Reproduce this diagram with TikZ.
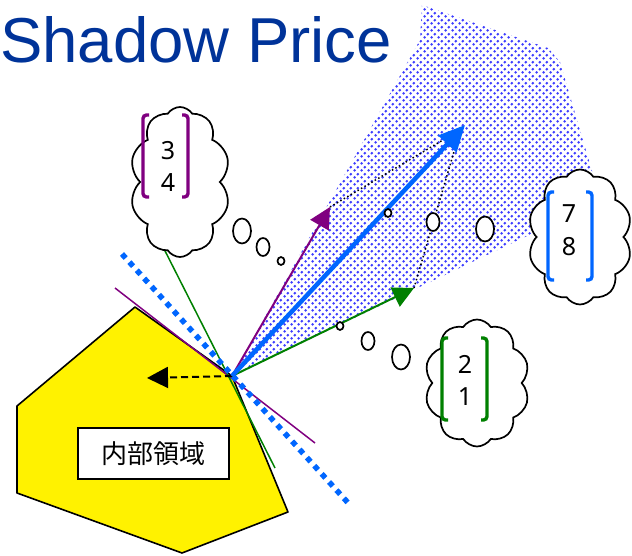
\documentclass[tikz,border=0pt]{standalone}
\usepackage{fontspec}
\setmainfont{Noto Sans}
\newfontfamily\titlefont{Liberation Sans}
\newfontfamily\cjkfont{Noto Sans CJK JP}
\usetikzlibrary{shapes.symbols,shapes.geometric,arrows.meta,patterns}

\definecolor{titleblue}{RGB}{0,51,153}
\definecolor{vecblue}{RGB}{0,102,255}
\definecolor{vecpurple}{RGB}{128,0,128}
\definecolor{vecgreen}{RGB}{0,128,0}
\definecolor{dotblue}{RGB}{60,60,255}

% staggered dot fill for the cone of feasible directions
\pgfdeclarepatternformonly{bluedots}{\pgfpointorigin}{\pgfpoint{6.7pt}{6.7pt}}{\pgfpoint{6.7pt}{6.7pt}}{%
  \pgfpathcircle{\pgfpoint{1.675pt}{1.675pt}}{1.5pt}%
  \pgfpathcircle{\pgfpoint{5.025pt}{5.025pt}}{1.5pt}%
  \pgfusepath{fill}}

\begin{document}
\begin{tikzpicture}[x=1pt,y=-1pt,
  cloudbox/.style={cloud, cloud puffs=10, cloud puff arc=115, cloud ignores aspect,
    draw=black, line width=1.7pt, fill=white, inner sep=0pt},
  bubble/.style={ellipse, draw=black, line width=1.7pt, fill=white, inner sep=0pt},
  vecarrow/.style={line width=2pt, -{Triangle[length=21pt,width=21pt]}},
  bracketline/.style={line width=3.4pt, rounded corners=3.5pt},
  digits/.style={font=\fontsize{25}{25}\selectfont, inner sep=0pt, anchor=base},
]
\useasboundingbox (0,0) rectangle (632,556);

% title
\node[text=titleblue, font=\titlefont\fontsize{63.5}{63.5}\selectfont,
  inner sep=0pt, anchor=base west] (title) at (0,63) {Shadow Price};

% key points
\coordinate (P) at (232,376);
\coordinate (ptip) at (330,207);
\coordinate (gtip) at (414,288);
\coordinate (btip) at (465,125);
\coordinate (pjoin) at (443,140);
\coordinate (gjoin) at (458,138);

% dotted cone
\fill[pattern=bluedots, pattern color=dotblue]
  (P) -- (420,40) -- (422,5) -- (548,48) -- (560,62) -- (602,205) -- (565,218) -- cycle;

% interior region
\draw[fill=yellow, line width=1.6pt, line join=round]
  (P) -- (135,307) -- (17,406) -- (17,493) -- (182,553) -- (288,512) -- cycle;
\node[draw=black, fill=white, line width=1.4pt, minimum width=151pt, minimum height=51pt,
  inner sep=0pt, font=\cjkfont\fontsize{26}{26}\selectfont] (inner) at (153.5,453.5) {内部領域};

% supporting lines through the vertex
\coordinate (pt1) at (115,288); \coordinate (pt2) at (315,443);
\coordinate (gt1) at (160,241); \coordinate (gt2) at (275,468);
\coordinate (bd1) at (122,254); \coordinate (bd2) at (350,505);
\draw[vecpurple, line width=1.5pt] (pt1) -- (pt2);
\draw[vecgreen, line width=1.5pt] (gt1) -- (gt2);
\draw[vecblue, line width=5.5pt, dash pattern=on 5.5pt off 5.5pt] (bd1) -- (bd2);

% inward direction
\coordinate (inw) at (147,378);
\draw[line width=2pt, dash pattern=on 7pt off 4pt, -{Triangle[length=21pt,width=21pt]}] (P) -- (inw);

% gradient vectors
\draw[line width=1.5pt, dash pattern=on 1.5pt off 2.5pt] (ptip) -- (pjoin);
\draw[line width=1.5pt, dash pattern=on 1.5pt off 2.5pt] (gtip) -- (gjoin);
\draw[vecarrow, vecpurple] (P) -- (ptip);
\draw[vecarrow, vecgreen] (P) -- (gtip);
\draw[vecblue, line width=4.5pt, -{Triangle[length=26pt,width=24pt]}] (P) -- (btip);

% thought clouds
\node[cloudbox, minimum width=100pt, minimum height=150pt] (c34) at (180,182) {};
\node[cloudbox, minimum width=104pt, minimum height=135pt] (c78) at (580,237) {};
\node[cloudbox, minimum width=105pt, minimum height=127pt] (c21) at (477,383) {};

\node[bubble, minimum width=18pt, minimum height=25pt] (b34a) at (242,231) {};
\node[bubble, minimum width=13pt, minimum height=18pt] (b34b) at (263,247) {};
\node[bubble, minimum width=7pt, minimum height=8pt] (b34c) at (281,261) {};

\node[bubble, minimum width=7pt, minimum height=8pt] (b78c) at (388,213) {};
\node[bubble, minimum width=13pt, minimum height=18pt] (b78b) at (433,222) {};
\node[bubble, minimum width=18pt, minimum height=25pt] (b78a) at (485,229) {};

\node[bubble, minimum width=7pt, minimum height=8pt] (b21c) at (340,326) {};
\node[bubble, minimum width=13pt, minimum height=18pt] (b21b) at (368,341) {};
\node[bubble, minimum width=18pt, minimum height=25pt] (b21a) at (401,357) {};

% column vectors
\draw[bracketline, vecpurple] (149,115) -- (143,115) -- (143,197) -- (149,197);
\draw[bracketline, vecpurple] (182,115) -- (188,115) -- (188,197) -- (182,197);
\node[digits] (n3) at (168,160) {3};
\node[digits] (n4) at (168,192) {4};

\draw[bracketline, vecblue] (554,192) -- (548,192) -- (548,280) -- (554,280);
\draw[bracketline, vecblue] (586,192) -- (592,192) -- (592,280) -- (586,280);
\node[digits] (n7) at (569,223) {7};
\node[digits] (n8) at (569,255) {8};

\draw[bracketline, vecgreen] (448,338) -- (442,338) -- (442,420) -- (448,420);
\draw[bracketline, vecgreen] (481,338) -- (487,338) -- (487,420) -- (481,420);
\node[digits] (n2) at (465,373) {2};
\node[digits] (n1) at (465,405) {1};
\end{tikzpicture}
\end{document}
